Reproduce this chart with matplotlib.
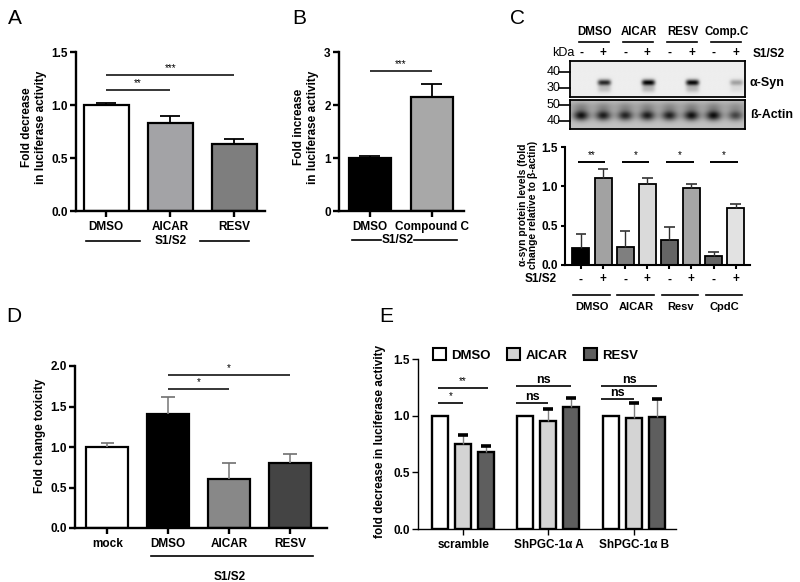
import numpy as np
import matplotlib
matplotlib.use('Agg')
import matplotlib.pyplot as plt
from matplotlib.transforms import blended_transform_factory as blend

plt.rcParams['font.family'] = ['Liberation Sans', 'DejaVu Sans']
plt.rcParams['font.weight'] = 'bold'

# ---------------- data ----------------
A_groups = ['DMSO', 'AICAR', 'RESV']
A_mean = [1.0, 0.83, 0.63]
A_sem = [0.02, 0.07, 0.045]
A_colors = ['white', '#a3a3a6', '#7e7e7e']
A_sig = [(0, 2, 1.28, '***'), (0, 1, 1.14, '**')]

B_groups = ['DMSO', 'Compound C']
B_mean = [1.0, 2.15]
B_sem = [0.03, 0.25]
B_colors = ['black', '#a8a8a8']
B_sig = [(0, 1, 2.64, '***')]

C_header = ['DMSO', 'AICAR', 'RESV', 'Comp.C']
C_groups = ['DMSO', 'AICAR', 'Resv', 'CpdC']
C_s12 = ['-', '+', '-', '+', '-', '+', '-', '+']
C_mean = [0.22, 1.11, 0.23, 1.03, 0.32, 0.975, 0.12, 0.72]
C_sem = [0.18, 0.11, 0.20, 0.08, 0.16, 0.06, 0.04, 0.05]
C_colors = ['black', '#a2a2a2', '#7f7f7f', '#dadada', '#656565', '#a6a6a6', '#656565', '#e2e2e2']
C_sig = [(0, 1, 1.31, '**'), (2, 3, 1.31, '*'), (4, 5, 1.31, '*'), (6, 7, 1.31, '*')]
C_syn_band = [0.0, 0.78, 0.0, 0.92, 0.0, 0.9, 0.0, 0.3]
C_actin_band = [0.88, 0.82, 0.78, 0.82, 0.8, 0.88, 0.9, 0.62]
C_kda_syn = [('40', 0.69), ('30', 0.25)]
C_kda_actin = [('50', 0.83), ('40', 0.28)]

D_groups = ['mock', 'DMSO', 'AICAR', 'RESV']
D_mean = [1.0, 1.41, 0.61, 0.80]
D_sem = [0.05, 0.21, 0.19, 0.11]
D_colors = ['white', 'black', '#888888', '#444444']
D_sig = [(1, 3, 1.885, '*'), (1, 2, 1.71, '*')]

E_groups = ['scramble', 'ShPGC-1\u03b1 A', 'ShPGC-1\u03b1 B']
E_series = ['DMSO', 'AICAR', 'RESV']
E_mean = {'DMSO': [1.0, 1.0, 1.0], 'AICAR': [0.753, 0.956, 0.979], 'RESV': [0.676, 1.076, 0.985]}
E_sem = {'DMSO': [0.0, 0.0, 0.0], 'AICAR': [0.077, 0.104, 0.131], 'RESV': [0.059, 0.08, 0.162]}
E_colors = {'DMSO': 'white', 'AICAR': '#d4d4d4', 'RESV': '#5e5e5e'}
# (group, series_from, series_to, y, label)
E_sig = [(0, 0, 2, 1.247, '**'), (0, 0, 1, 1.11, '*'),
         (1, 0, 2, 1.265, 'ns'), (1, 0, 1, 1.11, 'ns'),
         (2, 0, 2, 1.265, 'ns'), (2, 0, 1, 1.15, 'ns')]

# ---------------- helpers ----------------
W, H = 800, 582
fig = plt.figure(figsize=(8, 5.82), dpi=100)


def px_ax(l, t, r, b):
    return fig.add_axes([l / W, 1 - b / H, (r - l) / W, (b - t) / H])


def ftext(x, y, s, **kw):
    kw.setdefault('ha', 'center')
    kw.setdefault('va', 'center')
    fig.text(x / W, 1 - y / H, s, **kw)


def fline(x0, x1, y, lw=1.2, color='black'):
    fig.add_artist(plt.Line2D([x0 / W, x1 / W], [1 - y / H, 1 - y / H],
                              lw=lw, color=color, transform=fig.transFigure))


def prism(ax, lw=1.7, ticklen=4, fs=8.5, xtick=True):
    for s in ['top', 'right']:
        ax.spines[s].set_visible(False)
    for s in ['left', 'bottom']:
        ax.spines[s].set_linewidth(lw)
    ax.tick_params(axis='y', direction='out', length=ticklen, width=lw, labelsize=fs, pad=2)
    ax.tick_params(axis='x', direction='out', length=ticklen if xtick else 0, width=lw,
                   labelsize=fs, pad=3)
    for lab in ax.get_xticklabels() + ax.get_yticklabels():
        lab.set_fontweight('bold')


def bars(ax, x, mean, sem, colors, width, elw, ecolor, capw, capcolor, caplw, edgelw):
    ax.bar(x, mean, width=width, color=colors, edgecolor='black', linewidth=edgelw, zorder=2)
    x = np.asarray(x, float)
    m = np.asarray(mean, float)
    s = np.asarray(sem, float)
    keep = s > 0
    ax.vlines(x[keep], m[keep], m[keep] + s[keep], color=ecolor, lw=elw, zorder=3)
    ax.hlines(m[keep] + s[keep], x[keep] - capw, x[keep] + capw, color=capcolor, lw=caplw, zorder=3)


def sig(ax, x0, x1, y, label, fs=7, weight='normal', lw=1.1, dy=0.0):
    ax.plot([x0, x1], [y, y], color='black', lw=lw, clip_on=False, solid_capstyle='butt')
    ax.text((x0 + x1) / 2, y + dy, label, ha='center', va='bottom', fontsize=fs,
            fontweight=weight, clip_on=False)


letter_kw = dict(fontsize=15, fontweight='normal', ha='left', va='center')

# ---------------- Panel A ----------------
axA = px_ax(76, 52, 265, 211)
xA = np.arange(len(A_groups))
bars(axA, xA, A_mean, A_sem, A_colors, 0.7, 1.3, 'black', 0.16, 'black', 1.3, 1.6)
axA.set_xlim(-0.47, 2.48)
axA.set_ylim(0, 1.5)
axA.set_yticks([0, 0.5, 1.0, 1.5])
axA.set_yticklabels(['0.0', '0.5', '1.0', '1.5'])
axA.set_xticks(xA)
axA.set_xticklabels(A_groups)
prism(axA)
for i, j, y, lab in A_sig:
    sig(axA, i, j, y, lab, dy=0.02)
ftext(34, 127, 'Fold decrease\nin luciferase activity', rotation=90, fontsize=8.5,
      fontweight='bold', linespacing=1.3)
fline(86, 140, 241)
fline(200, 249, 241)
ftext(171, 241, 'S1/S2', fontsize=8.5, fontweight='bold')
ftext(8, 19, 'A', **letter_kw)

# ---------------- Panel B ----------------
axB = px_ax(339, 52, 464, 211)
xB = np.arange(len(B_groups))
bars(axB, xB, B_mean, B_sem, B_colors, 0.68, 1.3, 'black', 0.17, 'black', 1.3, 1.6)
axB.set_xlim(-0.5, 1.52)
axB.set_ylim(0, 3)
axB.set_yticks([0, 1, 2, 3])
axB.set_xticks(xB)
axB.set_xticklabels(B_groups)
prism(axB)
for i, j, y, lab in B_sig:
    sig(axB, i, j, y, lab, dy=0.04)
ftext(306, 127, 'Fold increase\nin luciferase activity', rotation=90, fontsize=8.5,
      fontweight='bold', linespacing=1.3)
fline(352, 381, 240)
fline(414, 457, 240)
ftext(398, 240, 'S1/S2', fontsize=8.5, fontweight='bold')
ftext(292, 19, 'B', **letter_kw)

# ---------------- Panel C (bars) ----------------
axC = px_ax(565, 147, 750, 265)
xC = np.arange(len(C_mean))
bars(axC, xC, C_mean, C_sem, C_colors, 0.77, 1.0, '#303030', 0.24, '#202020', 1.1, 1.3)
axC.set_xlim(-0.72, 7.65)
axC.set_ylim(0, 1.5)
axC.set_yticks([0, 0.5, 1.0, 1.5])
axC.set_yticklabels(['0.0', '0.5', '1.0', '1.5'])
axC.set_xticks(xC)
axC.set_xticklabels(C_s12)
prism(axC, lw=1.5, ticklen=3)
axC.tick_params(axis='x', pad=3, labelsize=8.5)
for i, j, y, lab in C_sig:
    sig(axC, i - 0.15, j + 0.1, y, lab, fs=7, dy=0.02, lw=1.4)
ftext(528, 205, '\u03b1-syn protein levels (fold\nchange relative to \u03b2-actin)', rotation=90,
      fontsize=7.4, fontweight='bold', linespacing=1.1)
ftext(541, 279, 'S1/S2', fontsize=8.5, fontweight='bold')
tC = blend(axC.transData, fig.transFigure)
for k, g in enumerate(C_groups):
    axC.plot([2 * k - 0.35, 2 * k + 1.3], [1 - 295 / H] * 2, color='black', lw=1.2,
             transform=tC, clip_on=False)
    axC.text(2 * k + 0.5, 1 - 307 / H, g, transform=tC, ha='center', va='center',
             fontsize=8, fontweight='bold')
ftext(510, 19, 'C', **letter_kw)

# ---------------- Panel C (blot) ----------------
blot_xlim = (-0.5, 7.42)
lx = np.linspace(blot_xlim[0], blot_xlim[1], 420)
ly_s = np.linspace(0, 1, 80)[:, None]
dark_s = np.full((80, 420), 0.07)
for i, v in enumerate(C_syn_band):
    prof = np.exp(-((lx - i - 0.05) / 0.3) ** 4)[None, :]
    dark_s += v * prof * np.exp(-((ly_s - 0.6) / 0.085) ** 2)
    dark_s += v * 0.22 * prof * np.exp(-((ly_s - 0.78) / 0.1) ** 2)
dark_s = np.clip(dark_s, 0, 1)
axS = px_ax(570, 61, 745, 97)
axS.imshow(1 - dark_s, cmap='gray', vmin=0, vmax=1, aspect='auto',
           extent=(blot_xlim[0], blot_xlim[1], 1, 0), interpolation='bilinear')
axS.set_xlim(*blot_xlim)
axS.set_ylim(1, 0)

ly_a = np.linspace(0, 1, 70)[:, None]
dark_a = np.full((70, 420), 0.24) + 0.08 * np.exp(-((ly_a - 0.25) / 0.2) ** 2)
for i, v in enumerate(C_actin_band):
    prof = np.exp(-((lx - i) / 0.36) ** 2)[None, :]
    dark_a += v * 0.78 * prof * np.exp(-((ly_a - 0.55) / 0.17) ** 2)
    dark_a += v * 0.15 * prof * np.exp(-((ly_a - 0.25) / 0.15) ** 2)
dark_a = np.clip(dark_a, 0, 1)
axAc = px_ax(570, 100, 745, 129)
axAc.imshow(1 - dark_a, cmap='gray', vmin=0, vmax=1, aspect='auto',
            extent=(blot_xlim[0], blot_xlim[1], 1, 0), interpolation='bilinear')
axAc.set_xlim(*blot_xlim)
axAc.set_ylim(1, 0)
for ax in (axS, axAc):
    ax.set_xticks([])
    ax.set_yticks([])
    for s in ax.spines.values():
        s.set_linewidth(1.3)

for ax, marks in ((axS, C_kda_syn), (axAc, C_kda_actin)):
    for lab, yf in marks:
        ax.plot([-0.065, 0], [yf, yf], transform=ax.transAxes, color='black', lw=1.2,
                clip_on=False)
        ax.text(-0.055, yf, lab, transform=ax.transAxes, ha='right', va='center',
                fontsize=9, fontweight='normal')
ftext(563, 53, 'kDa', fontsize=9, fontweight='normal')
ftext(750, 83, '\u03b1-Syn', fontsize=9, fontweight='bold', ha='left')
ftext(750, 115, '\u00df-Actin', fontsize=9, fontweight='bold', ha='left')
ftext(753, 54, 'S1/S2', fontsize=8.5, fontweight='bold', ha='left')
tS = blend(axS.transData, fig.transFigure)
for i, s in enumerate(C_s12):
    axS.text(i, 1 - 53 / H, s, transform=tS, ha='center', va='center', fontsize=8.5,
             fontweight='bold')
for k, g in enumerate(C_header):
    axS.plot([2 * k - 0.1, 2 * k + 1.25], [1 - 42 / H] * 2, color='black', lw=1.2,
             transform=tS, clip_on=False)
    axS.text(2 * k + 0.6, 1 - 32 / H, g, transform=tS, ha='center', va='center',
             fontsize=8.3, fontweight='bold')

# ---------------- Panel D ----------------
axD = px_ax(75, 366, 327, 528)
xD = np.arange(len(D_groups))
bars(axD, xD, D_mean, D_sem, D_colors, 0.69, 1.2, '#808080', 0.11, '#707070', 1.2, 1.6)
axD.set_xlim(-0.53, 3.61)
axD.set_ylim(0, 2.0)
axD.set_yticks([0, 0.5, 1.0, 1.5, 2.0])
axD.set_yticklabels(['0.0', '0.5', '1.0', '1.5', '2.0'])
axD.set_xticks(xD)
axD.set_xticklabels(D_groups)
prism(axD)
for i, j, y, lab in D_sig:
    sig(axD, i, j, y, lab, dy=0.03)
ftext(40, 436, 'Fold change toxicity', rotation=90, fontsize=8.5, fontweight='bold')
fline(151, 313, 556)
ftext(230, 577, 'S1/S2', fontsize=8.5, fontweight='bold')
ftext(6, 316, 'D', **letter_kw)

# ---------------- Panel E ----------------
axE = px_ax(418, 359, 676, 529)
gcent = np.arange(len(E_groups)) * 3.7
offs = {'DMSO': -1.0, 'AICAR': 0.0, 'RESV': 1.0}
for s in E_series:
    bars(axE, gcent + offs[s], E_mean[s], E_sem[s], E_colors[s], 0.7, 1.0, '#808080',
         0.22, 'black', 2.6, 1.7)
axE.set_xlim(-1.96, 9.24)
axE.set_ylim(0, 1.5)
axE.set_yticks([0, 0.5, 1.0, 1.5])
axE.set_yticklabels(['0.0', '0.5', '1.0', '1.5'])
axE.set_xticks(gcent)
axE.set_xticklabels(E_groups)
prism(axE, lw=1.0, ticklen=4, fs=8.5)
for g, a, b, y, lab in E_sig:
    x0 = gcent[g] + offs[E_series[a]] - (0.1 if g == 0 else 0.4)
    x1 = gcent[g] + offs[E_series[b]] + (0.1 if b == 2 and g == 0 else 0.0)
    if lab == 'ns':
        sig(axE, x0, x1, y, lab, fs=9, weight='bold', lw=1.2, dy=0.0)
    else:
        sig(axE, x0, x1, y, lab, fs=7, lw=1.2, dy=0.015)
handles = [plt.Rectangle((0, 0), 1, 1, facecolor=E_colors[s], edgecolor='black', lw=1.5)
           for s in E_series]
axE.legend(handles, E_series, loc='center left', ncol=3, frameon=False,
           bbox_to_anchor=(433 / W, 1 - 355 / H), bbox_transform=fig.transFigure,
           borderaxespad=0, borderpad=0, handlelength=0.95, handleheight=0.95,
           handletextpad=0.4, columnspacing=1.3, prop={'weight': 'bold', 'size': 9.5})
ftext(380, 442, 'fold decrease in luciferase activity', rotation=90, fontsize=8.5,
      fontweight='bold')
ftext(379, 316, 'E', **letter_kw)

fig.savefig('out.png', dpi=100, facecolor='white')
